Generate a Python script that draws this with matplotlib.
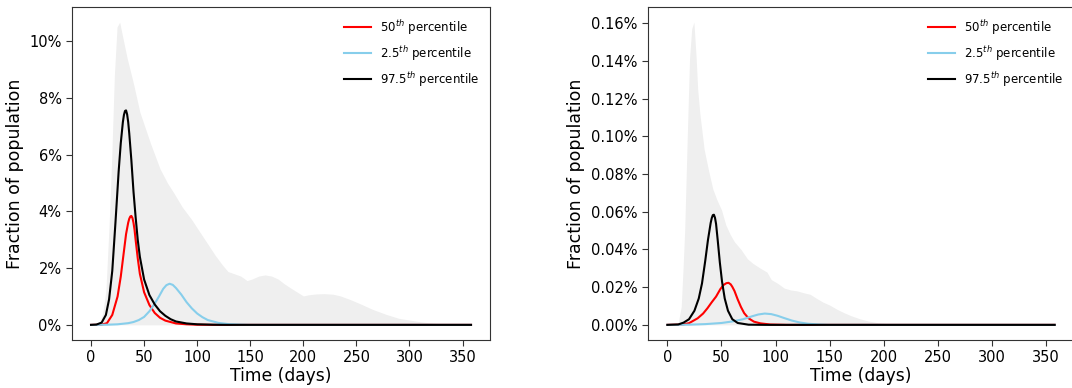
import matplotlib
matplotlib.use("Agg")
from matplotlib import pyplot as plt
from matplotlib.ticker import PercentFormatter, MultipleLocator


# left panel, values in percent of population
L_BAND_DAYS = [0, 5, 8, 11, 14, 17, 19.5, 22, 24.5, 27, 29, 34, 40, 46, 56, 65, 72, 78, 86,
               95, 102, 110, 117, 124, 129, 135, 141, 147, 152, 158, 164, 170, 176, 182, 188,
               194, 200, 205, 212, 220, 228, 235, 245, 255, 265, 278, 290, 300, 312, 325, 340, 358]
L_BAND = [0, 0, 0.06, 0.4, 1.2, 3.5, 5.9, 8.8, 10.5, 10.67, 10.3, 9.4, 8.5, 7.5, 6.4, 5.5, 5.0, 4.65, 4.15,
          3.7, 3.3, 2.85, 2.45, 2.1, 1.88, 1.8, 1.72, 1.56, 1.62, 1.72, 1.76, 1.72, 1.62, 1.45, 1.3,
          1.16, 1.02, 1.06, 1.09, 1.1, 1.08, 1.02, 0.88, 0.72, 0.55, 0.37, 0.23, 0.17, 0.1, 0.05, 0.02, 0]

L_P50_DAYS = [0, 10, 15, 20, 25, 28, 31, 33, 35, 36, 37, 38, 39, 40, 41, 42, 44, 46, 50, 55, 60, 65,
              70, 80, 90, 100, 120, 358]
L_P50 = [0, 0.01, 0.06, 0.35, 1.0, 1.7, 2.6, 3.2, 3.6, 3.74, 3.82, 3.84, 3.77, 3.6, 3.35, 3.0, 2.35, 1.8,
         1.15, 0.7, 0.42, 0.25, 0.15, 0.05, 0.02, 0.005, 0, 0]

L_P025_DAYS = [0, 15, 25, 35, 40, 45, 50, 55, 60, 64, 68, 71, 74, 77, 80, 85, 90, 95, 100, 105, 110,
               120, 130, 140, 150, 358]
L_P025 = [0, 0.005, 0.02, 0.06, 0.1, 0.17, 0.28, 0.48, 0.75, 1.0, 1.27, 1.4, 1.45, 1.41, 1.3, 1.07, 0.8,
          0.58, 0.4, 0.27, 0.17, 0.07, 0.025, 0.01, 0, 0]

L_P975_DAYS = [0, 5, 10, 14, 17, 20, 23, 26, 28, 30, 31, 32, 33, 34, 35, 36, 38, 40, 42, 44, 46, 50,
               55, 60, 65, 70, 75, 80, 90, 100, 115, 130, 358]
L_P975 = [0, 0.01, 0.08, 0.35, 0.9, 1.9, 3.6, 5.4, 6.4, 7.15, 7.4, 7.54, 7.56, 7.42, 7.15, 6.75, 5.8,
          4.7, 3.8, 3.0, 2.4, 1.6, 1.05, 0.72, 0.48, 0.32, 0.2, 0.12, 0.05, 0.02, 0.005, 0, 0]

# right panel
R_BAND_DAYS = [0, 8, 10, 12.8, 14.5, 16, 18.3, 20.5, 22.5, 24.5, 26.6, 28, 30, 34, 38, 42, 46, 50, 54,
               58, 62, 68, 74, 79, 86, 92, 96, 102, 108, 114, 120, 126, 132, 138, 144, 150, 156, 163,
               170, 178, 186, 195, 205, 215, 225, 358]
R_BAND = [0, 0, 0.001, 0.0097, 0.03, 0.05, 0.098, 0.1415, 0.157, 0.1605, 0.1415, 0.125, 0.112, 0.093,
          0.082, 0.072, 0.066, 0.061, 0.053, 0.048, 0.044, 0.040, 0.035, 0.0326, 0.030, 0.028, 0.024,
          0.022, 0.0195, 0.0185, 0.018, 0.017, 0.0162, 0.014, 0.012, 0.0105, 0.0085, 0.0065, 0.0048,
          0.0032, 0.002, 0.0011, 0.0005, 0.0002, 0, 0]

R_P50_DAYS = [0, 15, 20, 28, 33, 37, 41, 45, 49, 52, 54.5, 56.5, 58.5, 60, 62, 65, 68, 71, 75, 80, 86,
              95, 110, 358]
R_P50 = [0, 0.0003, 0.0009, 0.0035, 0.006, 0.0088, 0.012, 0.015, 0.019, 0.0212, 0.0221, 0.0223, 0.0215,
         0.0202, 0.018, 0.0135, 0.0095, 0.0062, 0.0035, 0.0017, 0.0008, 0.0002, 0, 0]

R_P025_DAYS = [0, 20, 35, 50, 60, 70, 78, 84, 90, 96, 102, 108, 115, 122, 130, 140, 150, 358]
R_P025 = [0, 0.0001, 0.0004, 0.001, 0.0018, 0.003, 0.0045, 0.0055, 0.006, 0.0057, 0.0048, 0.0036,
          0.0023, 0.0013, 0.0006, 0.0002, 0, 0]

R_P975_DAYS = [0, 10, 15, 20, 25, 29, 32, 35, 37.5, 40, 41, 42, 43, 44, 45, 46.5, 48.5, 50.5, 53, 56,
               60, 65, 75, 90, 358]
R_P975 = [0, 0.0002, 0.0012, 0.003, 0.0075, 0.014, 0.022, 0.034, 0.045, 0.054, 0.0566, 0.0582, 0.0584,
          0.0568, 0.0535, 0.045, 0.033, 0.023, 0.014, 0.0075, 0.003, 0.001, 0.0001, 0, 0]

LABELS = [r"50$^{th}$ percentile", r"2.5$^{th}$ percentile", r"97.5$^{th}$ percentile"]
COLORS = ["red", "skyblue", "black"]


def draw_panel(ax, band_days, band, series, decimals, step):
    ax.fill_between(band_days, 0, band, color="#efefef", lw=0)
    for (days, vals), label, color in zip(series, LABELS, COLORS):
        ax.plot(days, vals, color=color, lw=1.5, label=label)

    ax.set_xticks(range(0, 351, 50))
    ax.yaxis.set_major_locator(MultipleLocator(step))
    ax.yaxis.set_major_formatter(PercentFormatter(xmax=100, decimals=decimals))
    ax.tick_params(labelsize=10.5, length=4, color="#333333")
    for sp in ax.spines.values():
        sp.set_color("#333333")
    ax.set_xlabel("Time (days)", fontsize=12.3, labelpad=1)
    ax.set_ylabel("Fraction of population", fontsize=12.5)
    ax.legend(loc="upper right", frameon=False, fontsize=8.5, labelspacing=0.6, handlelength=2.3)


def main():
    fig = plt.figure(figsize=(10.72, 3.88), dpi=100)
    ax1 = fig.add_axes([0.0672, 0.1237, 0.3899, 0.8582])
    ax2 = fig.add_axes([0.6045, 0.1237, 0.3974, 0.8582])

    draw_panel(ax1, L_BAND_DAYS, L_BAND,
               [(L_P50_DAYS, L_P50), (L_P025_DAYS, L_P025), (L_P975_DAYS, L_P975)], 0, 2)
    draw_panel(ax2, R_BAND_DAYS, R_BAND,
               [(R_P50_DAYS, R_P50), (R_P025_DAYS, R_P025), (R_P975_DAYS, R_P975)], 2, 0.02)

    fig.savefig("out.png", dpi=100)


if __name__ == "__main__":
    main()
